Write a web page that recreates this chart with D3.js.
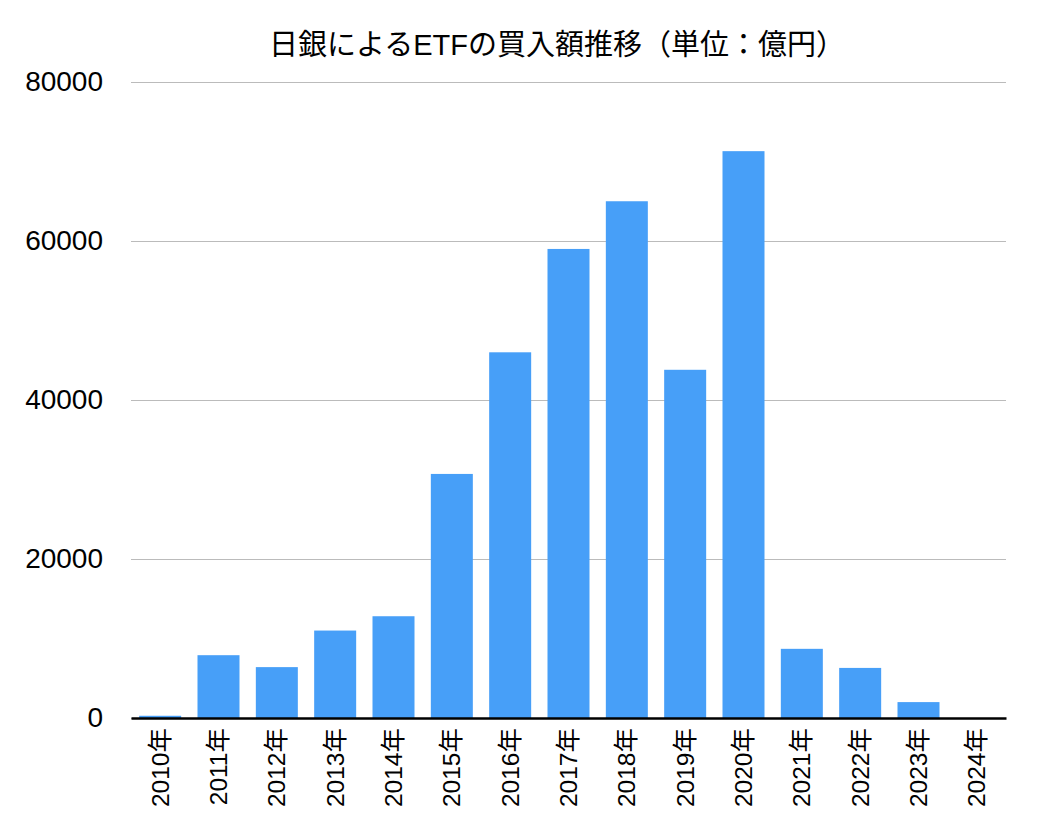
<!DOCTYPE html>
<html><head><meta charset="utf-8">
<script src="https://cdn.jsdelivr.net/npm/d3@7"></script>
<style>body{margin:0;background:#fff}</style>
</head><body>
<svg id="c" width="1048" height="834"></svg>
<script>
const title = "日銀によるETFの買入額推移（単位：億円）";
const years = ["2010年","2011年","2012年","2013年","2014年","2015年","2016年","2017年","2018年","2019年","2020年","2021年","2022年","2023年","2024年"];
const values = [280,7900,6400,11000,12800,30700,46000,59000,65000,43800,71300,8700,6300,2000,0];
const yTicks = [0,20000,40000,60000,80000];

const font = "'Liberation Sans','Noto Sans CJK JP',sans-serif";
const svg = d3.select("#c");
const m = {left:131, right:1006, top:82, bottom:718};
const x = d3.scaleBand().domain(years).range([m.left,m.right]).paddingInner(0.28).paddingOuter(0.14);
const y = d3.scaleLinear().domain([0,80000]).range([m.bottom,m.top]);

svg.append("text").attr("x",557).attr("y",55).attr("text-anchor","middle")
  .attr("font-family",font).attr("font-size",29).attr("fill","#000").text(title);

const ya = svg.append("g").attr("transform",`translate(${m.left},0)`)
  .call(d3.axisLeft(y).tickValues(yTicks).tickSize(-(m.right-m.left)).tickPadding(28).tickFormat(d3.format("d")));
ya.select(".domain").remove();
ya.selectAll(".tick line").attr("stroke","#bbb").attr("stroke-width",1);
ya.selectAll(".tick text").attr("font-family",font).attr("font-size",28).attr("fill","#000");

svg.append("g").selectAll("rect").data(values).join("rect")
  .attr("x",(d,i)=>x(years[i])).attr("width",x.bandwidth())
  .attr("y",d=>y(d)).attr("height",d=>y(0)-y(d)).attr("fill","#479ff8");

const xa = svg.append("g").attr("transform",`translate(0,${m.bottom})`)
  .call(d3.axisBottom(x).tickSize(0).tickPadding(0));
xa.select(".domain").attr("stroke","#000").attr("stroke-width",2.5);
xa.selectAll(".tick text").attr("font-family",font).attr("font-size",24.5).attr("fill","#000")
  .attr("transform","rotate(-90)").attr("text-anchor","end").attr("dy","0.35em").attr("x",-10).attr("y",0);
</script>
</body></html>
